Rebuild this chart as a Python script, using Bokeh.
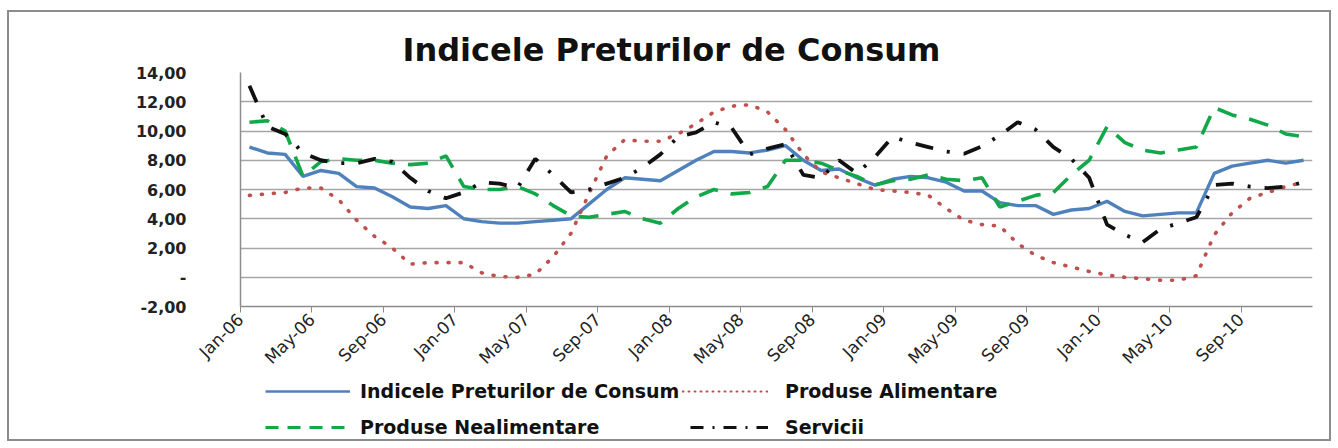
import math
from bokeh.plotting import figure
from bokeh.layouts import column
from bokeh.models import Legend, LegendItem, FixedTicker, Range1d, Title
from bokeh.embed import file_html
from bokeh.resources import INLINE

# ---- data (monthly, Jan-06 .. Dec-10) ----
tick_labels = ["Jan-06", "May-06", "Sep-06", "Jan-07", "May-07", "Sep-07", "Jan-08", "May-08",
               "Sep-08", "Jan-09", "May-09", "Sep-09", "Jan-10", "May-10", "Sep-10"]

ipc = [8.9, 8.5, 8.4, 6.9, 7.3, 7.1, 6.2, 6.1, 5.5, 4.8, 4.7, 4.9, 4.0, 3.8, 3.7,
       3.7, 3.8, 3.9, 4.0, 5.0, 6.0, 6.8, 6.7, 6.6, 7.3, 8.0, 8.6, 8.6, 8.5, 8.7,
       9.0, 8.0, 7.3, 7.4, 6.8, 6.3, 6.7, 6.9, 6.8, 6.5, 5.9, 5.9, 5.1, 4.9, 4.9,
       4.3, 4.6, 4.7, 5.2, 4.5, 4.2, 4.3, 4.4, 4.4, 7.1, 7.6, 7.8, 8.0, 7.8, 8.0]

alimentare = [5.6, 5.7, 5.8, 6.1, 6.1, 5.3, 3.9, 2.8, 2.0, 0.9, 1.0, 1.0, 1.0, 0.3, 0.05,
              0.0, 0.2, 1.4, 3.0, 5.7, 8.3, 9.4, 9.3, 9.3, 9.8, 10.5, 11.3, 11.7, 11.8, 11.3,
              10.1, 8.4, 7.2, 6.8, 6.4, 6.0, 5.9, 5.8, 5.6, 4.7, 3.9, 3.6, 3.5, 2.3, 1.5,
              1.0, 0.7, 0.4, 0.15, 0.0, -0.1, -0.2, -0.2, 0.1, 2.9, 4.4, 5.4, 5.8, 6.2, 6.5]

nealimentare = [10.6, 10.7, 10.0, 6.9, 7.9, 8.1, 8.0, 8.0, 7.8, 7.7, 7.8, 8.3, 6.2, 6.0, 6.0,
                6.2, 5.7, 4.9, 4.2, 4.1, 4.3, 4.5, 4.0, 3.7, 4.7, 5.5, 6.0, 5.7, 5.8, 6.2,
                8.0, 8.0, 7.8, 7.3, 6.9, 6.3, 6.6, 6.7, 7.0, 6.7, 6.6, 6.8, 4.8, 5.2, 5.6,
                5.8, 7.0, 8.0, 10.3, 9.2, 8.7, 8.5, 8.7, 8.9, 11.6, 11.1, 10.8, 10.4, 9.8, 9.6]

servicii = [13.1, 10.3, 9.8, 8.5, 8.0, 7.8, 7.8, 8.1, 7.9, 6.8, 5.9, 5.4, 5.8, 6.5, 6.4,
            6.1, 8.1, 7.0, 5.8, 6.0, 6.4, 6.8, 7.5, 8.4, 9.6, 9.9, 10.6, 10.2, 8.4, 8.8,
            9.1, 7.0, 6.8, 8.0, 7.1, 8.2, 9.6, 9.2, 8.9, 8.6, 8.45, 8.95, 9.7, 10.6, 10.1,
            8.9, 8.1, 6.8, 3.6, 2.9, 2.4, 3.3, 3.7, 4.1, 6.3, 6.4, 6.2, 6.1, 6.2, 6.5]

y_ticks = [-2, 0, 2, 4, 6, 8, 10, 12, 14]
y_tick_labels = ["-2,00", "-", "2,00", "4,00", "6,00", "8,00", "10,00", "12,00", "14,00"]

series_names = ["Indicele Preturilor de Consum", "Produse Alimentare",
                "Produse Nealimentare", "Servicii"]

x = [i + 0.5 for i in range(len(ipc))]

FONT = "DejaVu Sans"
STYLES = [
    dict(line_color="#4F81BD", line_width=3.4),
    dict(line_color="#C0504D", line_width=3.6, line_dash="1 11", line_cap="round"),
    dict(line_color="#12A84A", line_width=3.6, line_dash="20 13"),
    dict(line_color="#111111", line_width=3.8, line_dash="18 14 3 14"),
]
LEGEND_STYLES = [
    dict(line_color="#4F81BD", line_width=2.6),
    dict(line_color="#C0504D", line_width=2.0, line_dash="1 5", line_cap="round"),
    dict(line_color="#12A84A", line_width=3.0, line_dash="13 9"),
    dict(line_color="#111111", line_width=3.0, line_dash="13 9 2 9"),
]

# ---------------- main chart ----------------
p = figure(width=1320, height=367, output_backend="svg", toolbar_location=None,
           x_range=Range1d(0, len(ipc)), y_range=Range1d(-2, 14),
           min_border_left=231, min_border_right=17, min_border_top=60, min_border_bottom=73)
p.outline_line_color = None
p.background_fill_color = "white"
p.border_fill_color = "white"

p.title = Title(text="Indicele Preturilor de Consum", align="left", offset=162,
                text_font=FONT, text_font_size="32px", text_font_style="bold",
                text_color="#111111", standoff=8)

p.xgrid.visible = False
p.ygrid.ticker = FixedTicker(ticks=y_ticks)
p.ygrid.grid_line_color = "#A6A6A6"
p.ygrid.grid_line_width = 1.5

p.yaxis.ticker = FixedTicker(ticks=y_ticks)
p.yaxis.major_label_overrides = {t: l for t, l in zip(y_ticks, y_tick_labels)}
p.yaxis.major_tick_line_color = None
p.yaxis.minor_tick_line_color = None
p.yaxis.axis_line_color = "#8C8C8C"
p.yaxis.axis_line_width = 1.5
p.yaxis.major_label_standoff = 48
p.yaxis.major_label_text_font = FONT
p.yaxis.major_label_text_font_style = "bold"
p.yaxis.major_label_text_font_size = "16px"
p.yaxis.major_label_text_color = "#222222"

x_ticks = [4 * k for k in range(len(tick_labels))]
p.xaxis.ticker = FixedTicker(ticks=x_ticks)
p.xaxis.major_label_overrides = {t: l for t, l in zip(x_ticks, tick_labels)}
p.xaxis.major_label_orientation = math.pi / 4
p.xaxis.minor_tick_line_color = None
p.xaxis.major_tick_line_color = "#8C8C8C"
p.xaxis.major_tick_out = 6
p.xaxis.major_tick_in = 0
p.xaxis.axis_line_color = "#8C8C8C"
p.xaxis.axis_line_width = 1.5
p.xaxis.major_label_text_font = FONT
p.xaxis.major_label_text_font_size = "17px"
p.xaxis.major_label_text_color = "#222222"
p.xaxis.major_label_standoff = 4

for vals, st in zip([ipc, alimentare, nealimentare, servicii], STYLES):
    p.line(x, vals, **st)

# ---------------- legend strip ----------------
p2 = figure(width=1320, height=60, output_backend="svg", toolbar_location=None,
            x_axis_location=None, y_axis_location=None, min_border=0,
            x_range=Range1d(0, 1), y_range=Range1d(0, 1))
p2.outline_line_color = None
p2.grid.visible = False
p2.background_fill_color = "white"
p2.border_fill_color = "white"

# proxy renderers (outside the visible range) so that the legend can draw their glyphs
leg_renderers = [p2.line([-5, -4], [-5, -4], **st) for st in LEGEND_STYLES]
leg_pos = [(25, 37), (442, 37), (25, 1), (450, 1)]
leg_gw = [85, 86, 85, 78]
leg_so = [10, 17, 10, 17]
for name, r, loc, gw, so in zip(series_names, leg_renderers, leg_pos, leg_gw, leg_so):
    lg = Legend(items=[LegendItem(label=name, renderers=[r])], location=loc,
                background_fill_alpha=0, border_line_color=None, padding=0, margin=0,
                glyph_width=gw, glyph_height=22, label_height=22, label_standoff=so,
                label_text_font=FONT, label_text_font_size="19px", label_text_font_style="bold",
                label_text_color="#111111")
    p2.add_layout(lg, "center")

layout = column(p, p2, spacing=0,
                styles={"border": "2px solid #8C8C8C", "margin-left": "7px", "margin-top": "10px"})

open("out.html", "w").write(file_html(layout, INLINE))
